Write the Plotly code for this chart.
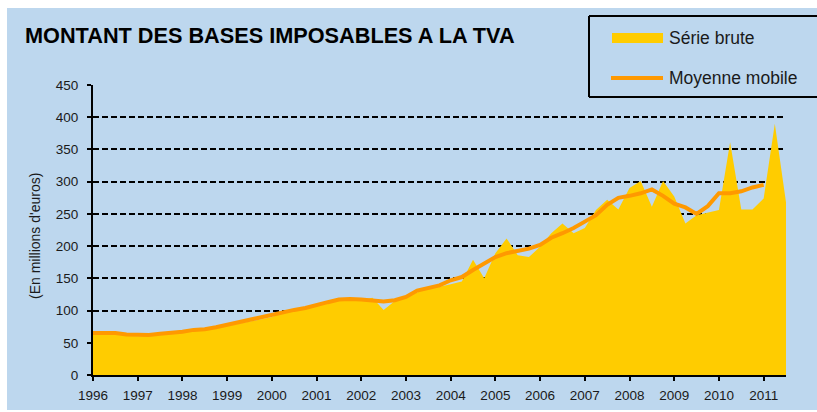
import plotly.graph_objects as go

# ---------------- data ----------------
quarters = [y + q * 0.25 for y in range(1996, 2012) for q in range(4)][:63]  # 1996T1 .. 2011T3
serie_brute = [
    63, 63, 64, 61, 60, 61, 63, 66,
    66, 69, 70, 72, 76, 80, 83, 86,
    90, 97, 99, 103, 107, 111, 119, 117,
    116, 120, 101, 115, 122, 128, 137, 137,
    141, 145, 179, 150, 189, 212, 186, 183,
    199, 220, 235, 220, 228, 256, 272, 257,
    290, 301, 261, 301, 277, 235, 248, 252,
    256, 361, 257, 257, 274, 390, 268,
]
moyenne_mobile = [
    65, 65, 65, 63, 62, 62, 64, 65,
    67, 70, 71, 74, 78, 81, 85, 89,
    93, 97, 101, 104, 109, 113, 117, 118,
    117, 115, 114, 116, 121, 131, 135, 139,
    147, 152, 163, 173, 183, 189, 192, 196,
    202, 213, 220, 228, 238, 248, 264, 275,
    278, 282, 288, 278, 266, 260, 250, 262,
    282, 282, 285, 291, 295,
]
year_ticks = list(range(1996, 2012))
y_ticks = list(range(0, 451, 50))

TITLE = "MONTANT DES BASES IMPOSABLES A LA TVA"
Y_TITLE = "(En millions d'euros)"
LEG_RAW = "Série brute"
LEG_MA = "Moyenne mobile"

# ---------------- style ----------------
W, H = 817, 412
ML, MR, MT, MB = 93, W - 786, 85, H - 375
PW, PH = W - ML - MR, H - MT - MB
BG = "#BDD7EE"
YELLOW = "#FFCC00"
ORANGE = "#FF9900"
FONT = "Liberation Sans, Arial, sans-serif"
TXT = "#1a1a1a"


def px(x):
    # x in screen pixels -> paper fraction
    return (x - ML) / PW


def py(y):
    # y in screen pixels -> paper fraction
    return (H - MB - y) / PH


fig = go.Figure()
fig.add_trace(go.Scatter(
    x=quarters, y=serie_brute, mode="lines", fill="tozeroy",
    fillcolor=YELLOW, line=dict(width=0, color=YELLOW), name=LEG_RAW,
    showlegend=False,
))
fig.add_trace(go.Scatter(
    x=quarters[:len(moyenne_mobile)], y=moyenne_mobile, mode="lines",
    line=dict(width=4, color=ORANGE), name=LEG_MA, showlegend=False,
))

# legend box: open on the right (it runs off the chart edge)
lx0, lx1, ly0, ly1 = px(589), px(W), py(97), py(16)
border = dict(width=2, color="black")

shapes = [
    # light blue chart background inside a thin white frame
    dict(type="rect", xref="paper", yref="paper", x0=px(7), x1=px(W), y0=py(410), y1=py(8),
         fillcolor=BG, line=dict(width=0), layer="below"),
    dict(type="rect", xref="paper", yref="paper", x0=lx0, x1=lx1, y0=ly0, y1=ly1,
         fillcolor=BG, line=dict(width=0), layer="above"),
    dict(type="line", xref="paper", yref="paper", x0=lx0, x1=lx1, y0=ly1, y1=ly1, line=border, layer="above"),
    dict(type="line", xref="paper", yref="paper", x0=lx0, x1=lx1, y0=ly0, y1=ly0, line=border, layer="above"),
    dict(type="line", xref="paper", yref="paper", x0=lx0, x1=lx0, y0=ly0, y1=ly1, line=border, layer="above"),
    dict(type="rect", xref="paper", yref="paper", x0=px(612), x1=px(663), y0=py(33), y1=py(43),
         fillcolor=YELLOW, line=dict(width=0), layer="above"),
    dict(type="line", xref="paper", yref="paper", x0=px(611), x1=px(663), y0=py(78), y1=py(78),
         line=dict(width=4, color=ORANGE), layer="above"),
]

annotations = [
    dict(text=LEG_RAW, xref="paper", yref="paper", x=px(667), y=py(38), xanchor="left",
         yanchor="middle", showarrow=False, font=dict(family=FONT, size=17.5, color=TXT)),
    dict(text=LEG_MA, xref="paper", yref="paper", x=px(667), y=py(78), xanchor="left",
         yanchor="middle", showarrow=False, font=dict(family=FONT, size=17.5, color=TXT)),
    dict(text=Y_TITLE, xref="paper", yref="paper", x=px(35), y=py(236), xanchor="center",
         yanchor="middle", textangle=-90, showarrow=False, font=dict(family=FONT, size=14, color=TXT)),
]

fig.update_layout(
    width=W, height=H,
    margin=dict(l=ML, r=MR, t=MT, b=MB, autoexpand=False),
    paper_bgcolor="white", plot_bgcolor=BG,
    title=dict(text="<b>" + TITLE + "</b>", xref="container", yref="container",
               x=25 / W, y=1 - 35 / H, xanchor="left", yanchor="middle",
               font=dict(family=FONT, size=21.7, color="black")),
    shapes=shapes, annotations=annotations,
    showlegend=False,
)
fig.update_xaxes(
    range=[1996, 2011.5], tickmode="array", tickvals=year_ticks, ticktext=[str(v) for v in year_ticks],
    showgrid=False, zeroline=False, showline=True, linecolor="black", linewidth=2,
    ticks="outside", ticklen=4, tickwidth=2, tickcolor="black",
    tickfont=dict(family=FONT, size=13.5, color=TXT), ticklabelstandoff=3, fixedrange=True,
)
fig.update_yaxes(
    range=[0, 450], tickmode="array", tickvals=y_ticks,
    showgrid=True, gridcolor="black", gridwidth=1.5, griddash="6px,3px",
    zeroline=False, showline=True, linecolor="black", linewidth=2,
    ticks="outside", ticklen=4, tickwidth=2, tickcolor="black",
    tickfont=dict(family=FONT, size=13.5, color=TXT), ticklabelstandoff=6, fixedrange=True,
)

fig.write_html(
    "out.html",
    config={"displayModeBar": False},
    post_script="document.body.style.margin='0';document.body.style.overflow='hidden';",
)
